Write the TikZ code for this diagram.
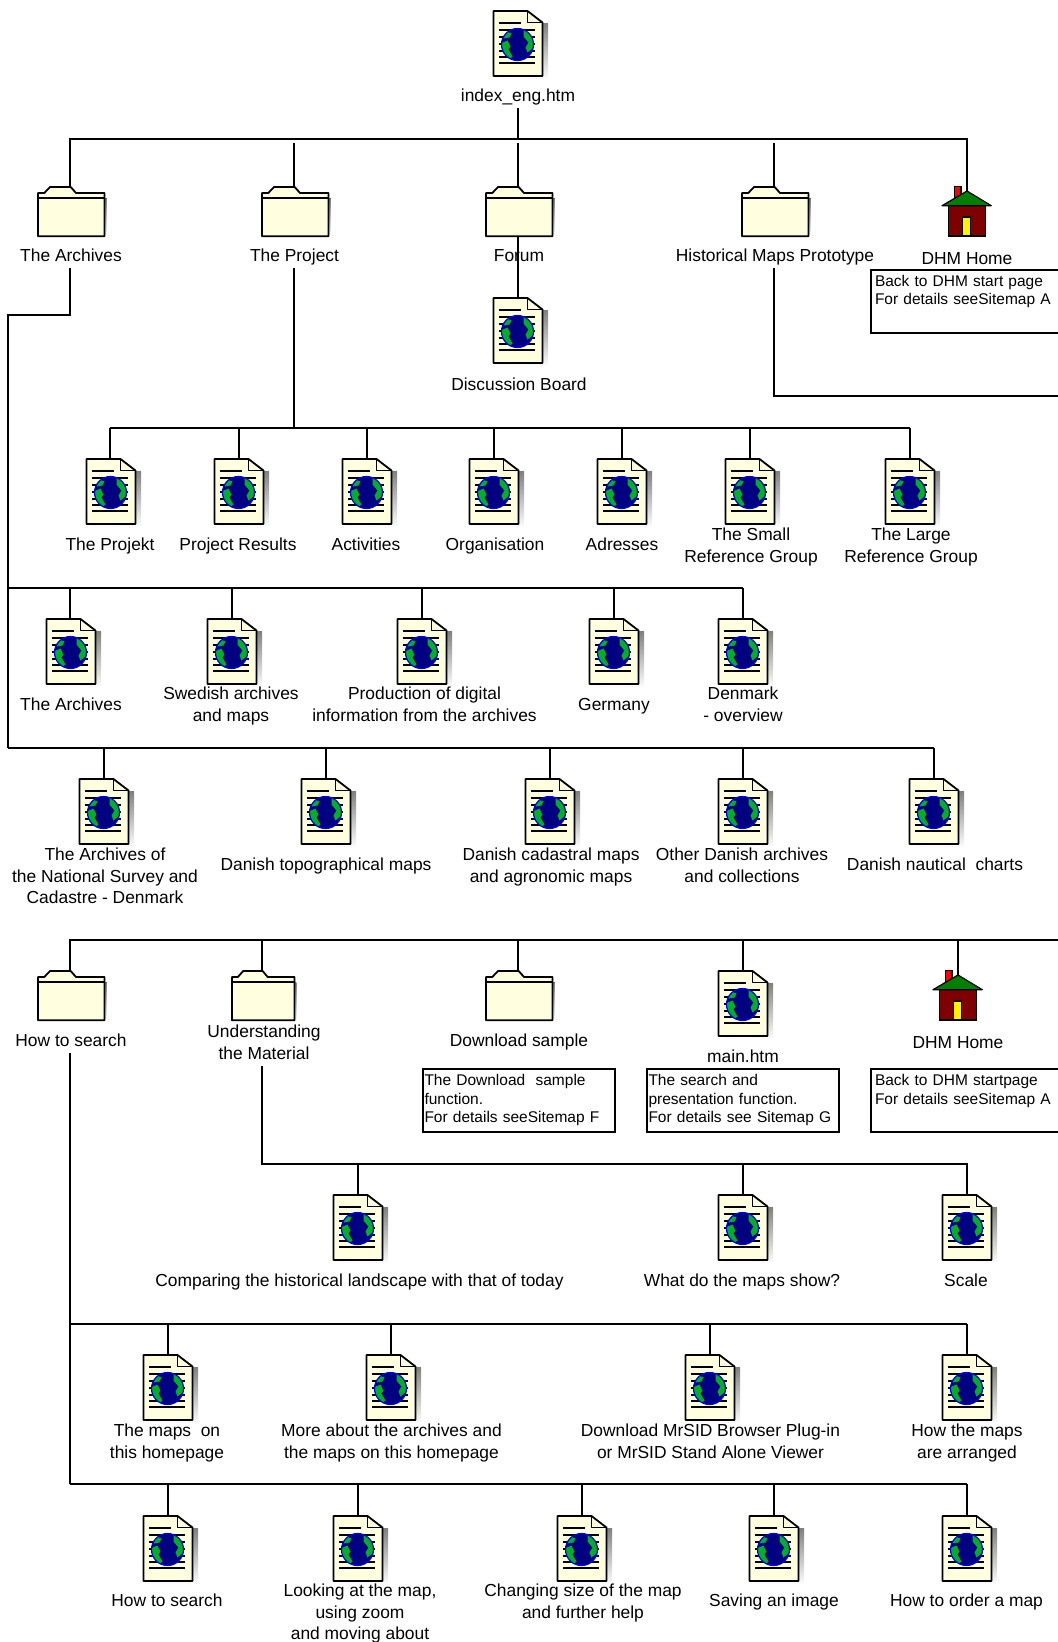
\documentclass[tikz,border=0pt]{standalone}
\usepackage{fontspec}
\setmainfont{Liberation Sans}
\definecolor{paper}{HTML}{FFFFE0}
\definecolor{shade}{HTML}{9CBCBC}
\definecolor{earth}{HTML}{00B020}
\definecolor{maroonwall}{HTML}{7F0000}
\tikzset{
	iconbox/.style={inner sep=0pt,minimum width=49,minimum height=50,anchor=north},
	lbl/.style={inner sep=0pt,align=center,yshift=-2pt,font=\fontsize{17.4}{21.5}\selectfont},
	note/.style={draw,line width=2pt,anchor=north west,inner xsep=0.5pt,inner ysep=1.5pt,align=left,
		font=\fontsize{15.5}{18.5}\selectfont},
	wire/.style={line width=2pt},
	page/.pic={
		\fill[shade] (-20,12) rectangle (30,68.5);
		\draw[line width=1.8pt,fill=paper,line join=round] (-24.5,0)--(9.5,0)--(24.5,11.5)--(24.5,65)--(-24.5,65)--cycle;
		\draw[line width=1.6pt,line join=round] (9.5,0)--(9.5,11.5)--(24.5,11.5);
		\draw[line width=1.2pt] (-19,12)--(3,12);
		\foreach \y in {19,26,33,40,46,52} \draw[line width=1.2pt] (-19,\y)--(17,\y);
		\fill[blue!50!black] (-0.5,33.5) circle (16);
		\begin{scope}[shift={(-0.5,33.5)}]
			\clip (0,0) circle (16);
			\fill[earth] (-17,-1)--(-10,-4)--(-7,2)--(-9,5)--(-5,12)--(-9,15)--(-17,6)--cycle;
			\fill[earth] (-11,-13)--(-6,-11)--(-8,-7)--(-14,-6)--cycle;
			\fill[earth] (6,-15)--(12,-11)--(17,-2)--(16,3)--(10,8)--(8,3)--(11,-2)--(6,-8)--cycle;
		\end{scope}
		\draw[blue,line width=1.2pt] (-0.5,33.5) circle (16);
	},
	folder/.pic={
		\fill[shade] (-28,11) rectangle (36.5,51);
		\draw[line width=1.8pt,fill=paper,line join=round] (-32,6)--(-25.7,6)--(-20,0)--(0.7,0)--(6,6)--(34.5,6)--(34.5,49.3)--(-32,49.3)--cycle;
		\draw[line width=1.4pt] (-32,11)--(34.5,11);
	},
	house/.pic={
		\draw[line width=1.2pt,fill=red] (-12.7,-4.3) rectangle (-6,10);
		\draw[line width=1.2pt,fill=maroonwall] (-18.7,14.7) rectangle (18.3,45);
		\draw[line width=1.2pt,fill=yellow] (-4.7,26) rectangle (3.3,45);
		\draw[line width=1.2pt,fill=green!50!black,line join=round] (0,0)--(24.3,14.7)--(-25,14.7)--cycle;
	}
}
% name, icon top, label centre, label
\newcommand{\pageitem}[5][]{
	\node[iconbox] (#2) at (#3) {};
	\pic[#1] at (#2.north) {page};
	\node[lbl] (#2lb) at (#4) {#5};
}
\newcommand{\folderitem}[5][]{
	\node[iconbox] (#2) at (#3) {};
	\pic[#1] at (#2.north) {folder};
	\node[lbl] (#2lb) at (#4) {#5};
}
\newcommand{\houseitem}[4]{
	\node[iconbox] (#1) at (#2) {};
	\pic at (#1.north) {house};
	\node[lbl] (#1lb) at (#3) {#4};
}
\begin{document}
\begin{tikzpicture}[x=1pt,y=-1pt,line cap=butt]
	\useasboundingbox (0,0) rectangle (1058,1642);
	\begin{scope}
	\clip (0,0) rectangle (1058,1642);

	% top level
	\pageitem{indexp}{518,11}{518,95.5}{\strut index\_eng.htm}
	\folderitem{archf}{70,187}{71,255.5}{\strut The Archives}
	\folderitem{projf}{294,187}{294.5,255.5}{\strut The Project}
	\folderitem{forumf}{518,187}{519,255.5}{\strut Forum}
	\folderitem{histf}{774,187}{775,255.5}{\strut Historical Maps Prototype}
	\houseitem{homea}{967,191}{967,258}{\strut DHM Home}
	\node[note,minimum width=220,minimum height=63,text width=212] (homeanote) at (870,268.5)
		{\strut Back to DHM start page\\\strut For details seeSitemap A\\\strut};
	\pageitem{board}{518,298}{519,384}{\strut Discussion Board}

	\coordinate (busa) at (518,139);
	\draw[wire] (indexplb.south -| busa) -- (busa);
	\draw[wire] (archf.north) |- (busa) -| (homea.north);
	\foreach \nm in {projf,forumf,histf}
		\draw[wire,shorten <=4] (\nm.north |- busa) -- (\nm.north);
	\draw[wire] (forumf.south) -- (board.north);
	\coordinate (histend) at (1058,396);
	\draw[wire] (histflb.south -| histf.north) |- (histend);

	% project pages
	\coordinate (busb) at (294,428);
	\pageitem[xshift=1]{projekt}{110,459}{110,544}{\strut The Projekt}
	\pageitem{results}{239,459}{238,544}{\strut Project Results}
	\pageitem{activ}{367,459}{366,544}{\strut Activities}
	\pageitem{organ}{494,459}{495,544}{\strut Organisation}
	\pageitem{adress}{622,459}{622,544}{\strut Adresses}
	\pageitem{smallref}{750,459}{751,545}{\strut The Small\\\strut Reference Group}
	\pageitem{largeref}{910,459}{911,545}{\strut The Large\\\strut Reference Group}
	\draw[wire] (projflb.south -| busb) -- (busb);
	\draw[wire] (projekt.north |- busb) -- (largeref.north |- busb);
	\foreach \nm in {projekt,results,activ,organ,adress,smallref,largeref}
		\draw[wire] (\nm.north |- busb) -- (\nm.north);

	% archives pages
	\coordinate (archcorner) at (8,315);
	\coordinate (archend) at (8,748);
	\coordinate (busc) at (8,588);
	\draw[wire,line join=miter] (archflb.south -| archf.north) |- (archcorner) -- (archend);
	\pageitem[xshift=1]{archa}{70,619}{71,704}{\strut The Archives}
	\pageitem{swed}{232,619}{231,704}{\strut Swedish archives\\\strut and maps}
	\pageitem{digital}{422,619}{424.5,704}{\strut Production of digital\\\strut information from the archives}
	\pageitem{germ}{614,619}{614,704}{\strut Germany}
	\pageitem{denm}{743,619}{743,704}{\strut Denmark\\\strut - overview}
	\draw[wire] (busc) -- (busc -| denm.north);
	\foreach \nm in {archa,swed,digital,germ,denm}
		\draw[wire] (\nm.north |- busc) -- (\nm.north);

	\coordinate (busd) at (8,748);
	\pageitem{survey}{104,779}{105,876}{\strut The Archives of\\\strut the National Survey and\\\strut Cadastre - Denmark}
	\pageitem{topo}{326,779}{326,864.5}{\strut Danish topographical maps}
	\pageitem{cadast}{550,779}{551,865}{\strut Danish cadastral maps\\\strut and agronomic maps}
	\pageitem{other}{743,779}{742,865}{\strut Other Danish archives\\\strut and collections}
	\pageitem{nautic}{934,779}{935,864.5}{\strut Danish nautical\ \ charts}
	\draw[wire] (busd) -- (busd -| nautic.north);
	\foreach \nm in {survey,topo,cadast,other,nautic}
		\draw[wire] (\nm.north |- busd) -- (\nm.north);

	% second part
	\coordinate (buse) at (1058,940);
	\folderitem{searchf}{70,971}{71,1040.5}{\strut How to search}
	\folderitem[xscale=.94]{underf}{262,971}{264,1042}{\strut Understanding\\\strut the Material}
	\folderitem{downf}{518,971}{519,1040.5}{\strut Download sample}
	\pageitem{mainp}{743,971}{743,1056.5}{\strut main.htm}
	\houseitem{homeb}{958,975}{958,1042}{\strut DHM Home}
	\node[note,minimum width=192,minimum height=63,text width=189] (downnote) at (422,1068)
		{\strut The Download\ \ sample\\\strut function.\\\strut For details seeSitemap F};
	\node[note,minimum width=192,minimum height=63,text width=189] (mainnote) at (646,1068)
		{\strut The search and\\\strut presentation function.\\\strut For details see Sitemap G};
	\node[note,minimum width=220,minimum height=63,text width=212] (homebnote) at (870,1068)
		{\strut Back to DHM startpage\\\strut For details seeSitemap A\\\strut};
	\draw[wire] (searchf.north) |- (buse);
	\foreach \nm in {underf,downf,mainp,homeb}
		\draw[wire] (\nm.north |- buse) -- (\nm.north);

	% understanding the material
	\coordinate (busf) at (262,1164);
	\pageitem{compare}{358,1195}{359.5,1280.5}{\strut Comparing the historical landscape with that of today}
	\pageitem{show}{743,1195}{742,1280.5}{\strut What do the maps show?}
	\pageitem{scale}{967,1195}{966,1280.5}{\strut Scale}
	\draw[wire] (underflb.south -| busf) |- (busf -| scale.north) -- (scale.north);
	\foreach \nm in {compare,show}
		\draw[wire] (\nm.north |- busf) -- (\nm.north);

	% how to search
	\coordinate (busg) at (70,1324);
	\coordinate (bush) at (70,1484);
	\draw[wire] (searchflb.south -| bush) -- (bush);
	\pageitem{homepage}{168,1355}{167,1441}{\strut The maps\ \ on\\\strut this homepage}
	\pageitem{moreab}{391,1355}{391.5,1441}{\strut More about the archives and\\\strut the maps on this homepage}
	\pageitem{mrsid}{710,1355}{710.5,1441}{\strut Download MrSID Browser Plug-in\\\strut or MrSID Stand Alone Viewer}
	\pageitem{arrange}{967,1355}{967,1441}{\strut How the maps\\\strut are arranged}
	\draw[wire] (busg) -- (busg -| arrange.north);
	\foreach \nm in {homepage,moreab,mrsid,arrange}
		\draw[wire] (\nm.north |- busg) -- (\nm.north);

	\pageitem{searchp}{168,1516}{167,1600}{\strut How to search}
	\pageitem{looking}{358,1516}{360,1612}{\strut Looking at the map,\\\strut using zoom\\\strut and moving about}
	\pageitem{sizep}{582,1516}{583,1601}{\strut Changing size of the map\\\strut and further help}
	\pageitem{saving}{774,1516}{774,1600}{\strut Saving an image}
	\pageitem{order}{967,1516}{966.5,1600}{\strut How to order a map}
	\draw[wire] (bush) -- (bush -| order.north);
	\foreach \nm in {searchp,looking,sizep,saving,order}
		\draw[wire] (\nm.north |- bush) -- (\nm.north);
	\end{scope}
\end{tikzpicture}
\end{document}
